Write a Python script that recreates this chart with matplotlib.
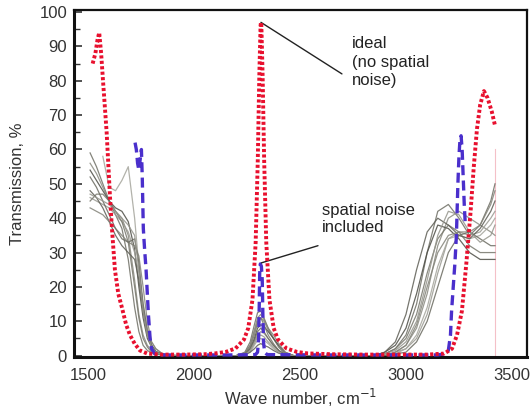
import numpy as np
import matplotlib
matplotlib.use("Agg")
import matplotlib.pyplot as plt

plt.rcParams['font.family'] = ['Liberation Sans', 'DejaVu Sans']

# ---- ideal red (dotted) ----
red_x = [1522, 1535, 1545, 1553, 1562, 1572, 1588, 1604, 1613, 1627, 1643, 1660, 1680, 1698, 1720,
         1745, 1780, 1850, 1950, 2050, 2100, 2150, 2196, 2236, 2256, 2276, 2291, 2301, 2308, 2314,
         2316, 2318, 2324, 2331, 2341, 2356, 2376, 2396, 2436, 2486, 2536, 2650, 2800, 2950, 3100,
         3180, 3217, 3241, 3264, 3285, 3305, 3320, 3335, 3350, 3368, 3385, 3405, 3420]
red_y = [85, 88, 92, 94, 88, 79, 65, 46, 37, 25, 18, 14, 9, 6, 3.5,
         1.5, 0.6, 0.3, 0.3, 0.4, 0.65, 1.08, 2.1, 4.7, 8.0, 16.3, 33, 57, 81, 96,
         97, 96, 81, 57, 33, 16.3, 8.0, 4.7, 2.1, 1.08, 0.65, 0.4, 0.3, 0.3, 0.3,
         0.6, 2, 6, 13, 27, 42, 55, 66, 73, 77, 75, 71, 67]

# ---- blue (dashed) ----
blue_x = [1722, 1728, 1734, 1740, 1746, 1752, 1756, 1761, 1767, 1774, 1785, 1793, 1800, 1815, 1850,
          2000, 2200, 2290, 2300, 2305, 2308, 2310, 2313, 2318, 2322, 2325, 2328, 2333, 2345,
          2600, 2900, 3150, 3180, 3200, 3210, 3215, 3223, 3231, 3238, 3245, 3250, 3255, 3260,
          3265, 3270, 3275, 3280]
blue_y = [62, 60, 56, 54, 57, 60, 52, 37, 31, 25, 12, 5, 2, 0.5, 0.2,
          0.2, 0.2, 0.3, 1, 5, 15, 24, 26.7, 26, 22, 12, 4, 1, 0.3,
          0.2, 0.2, 0.2, 0.5, 1.5, 6, 12.7, 20, 27, 35, 50, 58, 63, 64,
          60, 52, 44, 38]

# ---- spatial noise included (grey) ----
x_left = [1510, 1540, 1570, 1600, 1630, 1660, 1690, 1720, 1740, 1760, 1780, 1800, 1820, 1850, 1880, 1920]
x_mid = [2200, 2240, 2265, 2285, 2300, 2315, 2330, 2350, 2375, 2400, 2430, 2470]
x_right = [2850, 2900, 2950, 3000, 3050, 3100, 3150, 3200, 3250, 3300, 3350, 3400, 3420]

nan = np.nan
grey_left = [
    [59, 55, 50, 45, 41, 37, 28, 14, 7, 3, 1.5, 0.8, 0.4, 0.2, 0, 0],
    [56, 53, 49, 45, 42, 40, 35, 22, 12, 6, 3, 1.5, 0.8, 0.3, 0, 0],
    [54, 51, 48, 45, 43, 42, 39, 31, 20, 11, 5, 2.5, 1, 0.4, 0.1, 0],
    [46, 45, 44, 43, 41, 39, 36, 30, 24, 15, 8, 4, 2, 0.6, 0.2, 0],
    [45, 47, 47, 45, 42, 39, 33, 20, 11, 5, 2.5, 1, 0.5, 0.2, 0, 0],
    [nan, nan, 58, 49, 48, 51, 55, 40, 26, 13, 6, 3, 1.2, 0.4, 0.1, 0],
    [48, 46, 43, 39, 35, 32, 30, 28, 22, 13, 6, 3, 1.2, 0.4, 0.1, 0],
    [43, 42, 41, 39, 37, 35, 33, 32, 29, 20, 10, 4, 2, 0.6, 0.2, 0],
    [52, 49, 45, 41, 37, 34, 33, 34, 27, 15, 7, 3, 1.2, 0.4, 0.1, 0],
    [47, 46, 45, 44, 42, 40, 38, 35, 25, 13, 6, 2.5, 1, 0.3, 0.1, 0],
]
grey_mid = [
    [0, 1, 4, 9, 12.5, 13, 11, 8, 5, 2.5, 0.5, 0],
    [0, 0.8, 3, 7, 10, 11, 10, 7.5, 5, 2.5, 0.5, 0],
    [0, 0.5, 2, 5, 8, 9, 8.5, 7, 5, 3, 1, 0],
    [0, 0.3, 1.5, 4, 6, 7, 6.5, 5, 3, 1.5, 0.3, 0],
    [0, 0.5, 2.5, 6, 9.5, 11, 9, 6, 3.5, 1.5, 0.3, 0],
    [0, 0.3, 1, 3, 4.5, 5, 4.5, 3.5, 2, 1, 0.2, 0],
    [0, 0.2, 1, 2, 3, 3.5, 3, 2.5, 1.5, 0.7, 0.2, 0],
    [0, 0.8, 3, 7.5, 11, 12, 10.5, 8, 6, 3.5, 1, 0],
    [0, 0.5, 2, 4.5, 7, 8, 7, 5, 3, 1.5, 0.3, 0],
    [0, 0.3, 1.5, 3.5, 5.5, 6, 5.5, 4, 2.5, 1, 0.2, 0],
]
grey_right = [
    [0, 0.5, 2, 6, 15, 30, 42, 44, 40, 35, 38, 45, 50],
    [0, 0, 1, 3, 8, 18, 32, 40, 42, 40, 38, 36, 35],
    [0, 1, 3, 8, 18, 30, 38, 37, 34, 30, 28, 28, 28],
    [0, 0, 1, 2, 5, 12, 24, 34, 36, 35, 36, 40, 42],
    [0, 0.5, 2, 5, 12, 24, 34, 38, 36, 32, 30, 30, 30],
    [0, 0, 0.5, 2, 6, 14, 26, 34, 35, 34, 35, 38, 40],
    [0, 1, 4, 12, 25, 36, 40, 38, 35, 34, 37, 42, 45],
    [0, 0, 1, 3, 9, 20, 30, 35, 36, 36, 38, 44, 48],
    [0, 0, 0.5, 1, 4, 10, 20, 30, 35, 36, 34, 32, 32],
    [0, 0.5, 1.5, 4, 10, 22, 35, 42, 41, 36, 33, 35, 38],
]
grey_colors = ['#6f6f65', '#8a8a80', '#4d4d45', '#9a9a92', '#77776c',
               '#a5a59c', '#5e5e55', '#838379', '#6a6a60', '#95958c']

y_ticks = [0, 10, 20, 30, 40, 50, 60, 70, 80, 90, 100]
x_ticks = [1500, 2000, 2500, 3000, 3500]

fig = plt.figure(figsize=(5.31, 4.12), dpi=100)
ax = fig.add_axes([74/531, 1-357/412, (527-74)/531, (357-10)/412])

for gl, gm, gr, c in zip(grey_left, grey_mid, grey_right, grey_colors):
    xs = x_left + x_mid + x_right
    ys = list(gl) + list(gm) + list(gr)
    ax.plot(xs, ys, color=c, lw=0.9, alpha=0.85, zorder=2)

ax.plot([3420, 3420], [0, 60], color='#f4c0c8', lw=0.8, zorder=1)

ax.plot(blue_x, blue_y, color='#4a2fcc', lw=2.4, linestyle=(0, (3, 1.6)), zorder=3)
ax.plot(red_x, red_y, color='#e8102e', lw=2.8, linestyle=(0, (0.8, 0.6)), zorder=4)

ax.set_xlim(1434, 3571)
ax.set_ylim(-0.4, 100.6)
ax.set_yticks(y_ticks)
ax.set_yticks([5, 15, 25, 35, 45, 55, 65, 75, 85, 95], minor=True)
ax.set_xticks(x_ticks)
ax.tick_params(axis='y', which='major', direction='in', length=6, width=1.2, labelsize=12,
               pad=5, colors='#333333')
ax.tick_params(axis='y', which='minor', direction='in', length=4, width=1.0, colors='#333333')
ax.tick_params(axis='x', length=0, labelsize=12, pad=8, colors='#333333')
for side in ['left', 'bottom']:
    ax.spines[side].set_linewidth(2.2)
for side in ['top', 'right']:
    ax.spines[side].set_linewidth(1.6)
for s in ax.spines.values():
    s.set_color('#111111')

ax.set_ylabel('Transmission, %', fontsize=12, color='#333333', labelpad=10)
ax.set_xlabel('Wave number, cm$^{-1}$', fontsize=12, color='#333333', labelpad=3)

# annotation texts and leader lines
ax.text(2745, 93, 'ideal\n(no spatial\nnoise)', fontsize=12, color='#222222',
        va='top', ha='left', linespacing=1.3)
ax.annotate('', xy=(2316, 97), xytext=(2698, 82),
            arrowprops=dict(arrowstyle='-', color='#222222', lw=1.0, shrinkA=0, shrinkB=0))
ax.text(2604, 44.5, 'spatial noise\nincluded', fontsize=12, color='#222222',
        va='top', ha='left', linespacing=1.2)
ax.annotate('', xy=(2318, 27), xytext=(2585, 32),
            arrowprops=dict(arrowstyle='-', color='#222222', lw=1.0, shrinkA=0, shrinkB=0))

fig.savefig('out.png', dpi=100)
